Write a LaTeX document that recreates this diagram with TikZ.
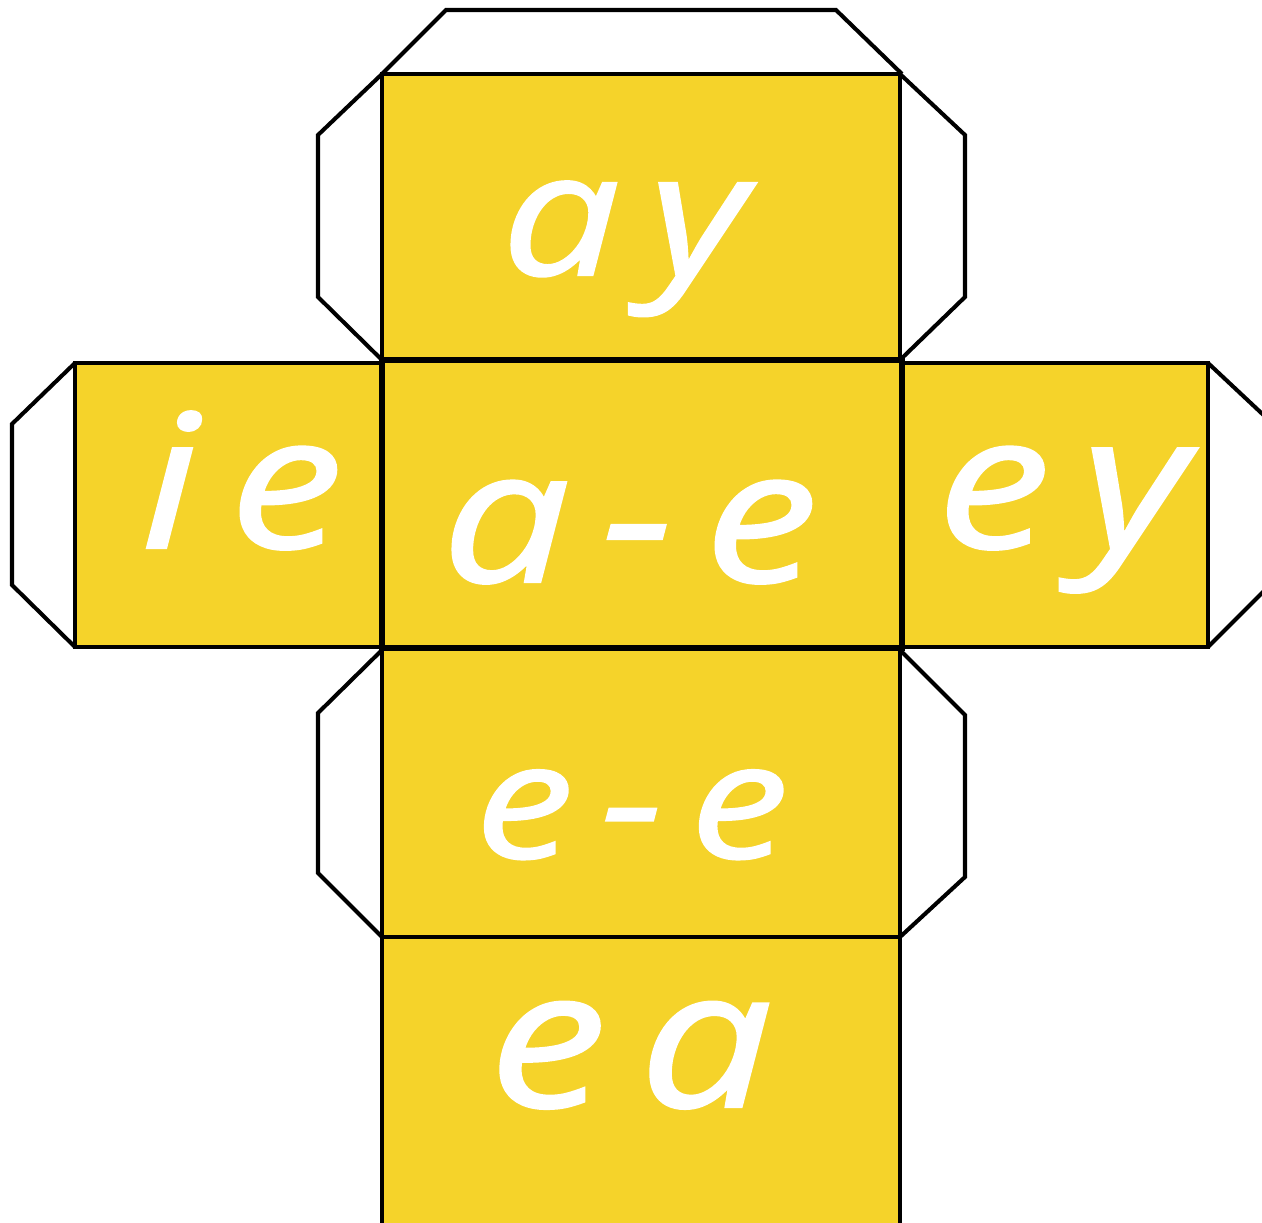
\documentclass[tikz,border=0pt]{standalone}
\usepackage{fontspec}
\setmainfont{Open Sans}
\newfontfamily\soundfont[LetterSpace=14, FakeBold=1.2]{Open Sans}
\definecolor{dieyellow}{RGB}{245, 211, 42}
\usetikzlibrary{positioning}
\newcommand{\wide}[1]{\scalebox{1.22}[1]{#1}}

\begin{document}
\begin{tikzpicture}[x=0.02cm, y=-0.02cm, line join=miter,
        tab/.style={draw, line width=2.3pt},
        face/.style={fill=dieyellow, draw, line width=2.6pt},
        sound/.style={white, anchor=base, inner sep=0pt,
            font=\soundfont\fontsize{#1}{#1}\selectfont\itshape},
        sound/.default=106]
    \useasboundingbox (0, 0) rectangle (1262, 1223);
    \clip (0, 0) rectangle (1262, 1223);
    % Glue tabs
    \draw[tab] (382, 74) -- (446, 10) -- (836, 10) -- (902, 74);
    \draw[tab] (382, 74) -- (318, 135) -- (318, 297) -- (382, 360);
    \draw[tab] (900, 74) -- (965, 135) -- (965, 297) -- (900, 360);
    \draw[tab] (75, 363) -- (12, 424) -- (12, 585) -- (75, 647);
    \draw[tab] (1208, 363) -- (1272, 423) -- (1272, 583) -- (1208, 647);
    \draw[tab] (382, 650) -- (318, 713) -- (318, 873) -- (382, 937);
    \draw[tab] (900, 650) -- (965, 715) -- (965, 877) -- (900, 937);
    % Faces of the cube
    \draw[face] (382, 74) rectangle (900, 360);
    \draw[face] (75, 363) rectangle (382, 647);
    \draw[face] (902, 363) rectangle (1208, 647);
    \draw[face] (382, 648) rectangle (900, 937);
    \draw[face] (382, 937) rectangle (900, 1230);
    \draw[face, line width=3.3pt] (382, 360) rectangle (902, 648);
    % Letter sounds
    \node[sound=98] (ay) at (624, 275) {\wide{ay}};
    \node[sound] (ie) at (242, 548) {\wide{ie}};
    \node[sound] (ae) at (630, 582) {\wide{a-e}};
    \node[sound] (ey) at (1062, 548) {\wide{ey}};
    \node[sound=92] (ee) at (632, 858) {\wide{e-e}};
    \node[sound=110] (ea) at (631, 1107) {\wide{ea}};
\end{tikzpicture}
\end{document}
